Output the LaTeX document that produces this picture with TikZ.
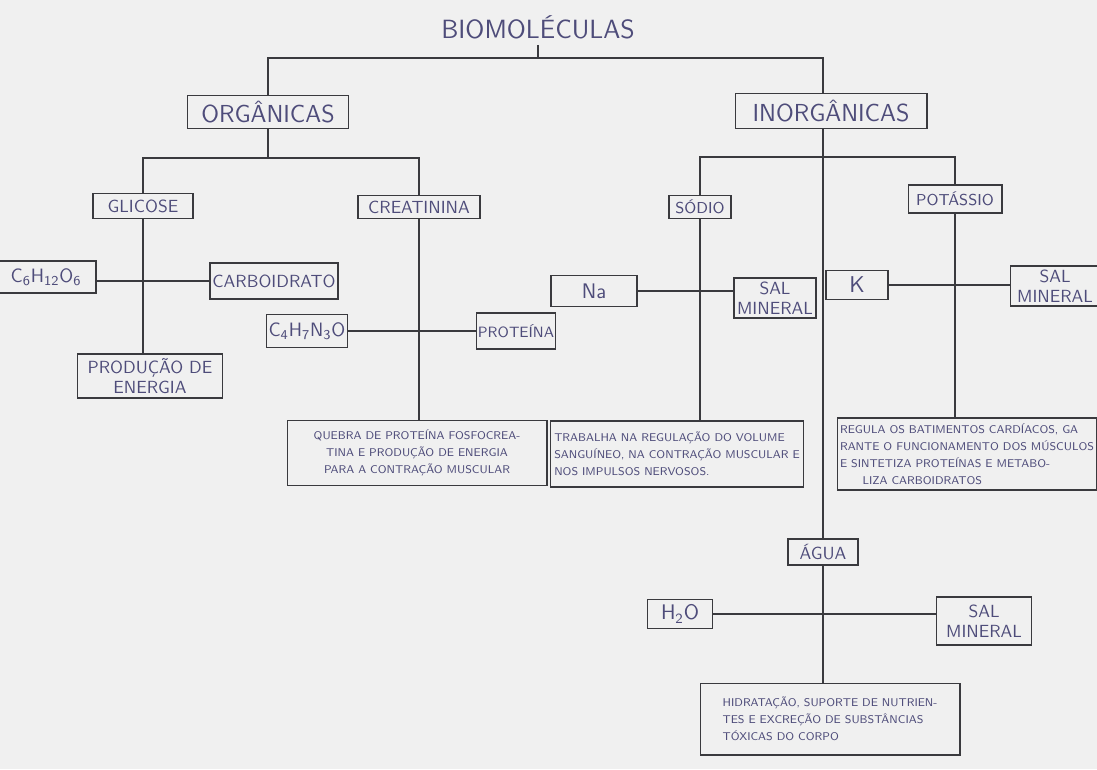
\documentclass[tikz,border=0pt]{standalone}
\usepackage{fontspec}
\definecolor{ink}{RGB}{78,76,122}
\definecolor{linecol}{RGB}{58,58,62}
\definecolor{paper}{RGB}{240,240,240}
\tikzset{
  box/.style={draw=linecol, line width=0.6pt, text=ink, inner sep=1pt, align=center},
  head/.style={box, font=\sffamily\fontsize{14}{17}\selectfont},
  item/.style={box, font=\sffamily\fontsize{10}{11.5}\selectfont},
  note/.style={box, font=\sffamily\fontsize{6.4}{9.6}\selectfont},
  link/.style={draw=linecol, line width=0.6pt},
}
\begin{document}
\begin{tikzpicture}[x=0.02cm, y=-0.02cm]
  \fill[paper] (0,0) rectangle (1097,769);
  \useasboundingbox (0,0) rectangle (1097,769);
  \clip (0,0) rectangle (1097,769);

  % title and first level
  \node[text=ink, font=\sffamily\fontsize{15}{18}\selectfont] (bio) at (538,27) {BIOMOLÉCULAS};
  \node[head, minimum width=3.22cm, minimum height=0.66cm] (org) at (268,112) {ORGÂNICAS};
  \node[head, minimum width=3.84cm, minimum height=0.70cm] (inorg) at (831,111) {INORGÂNICAS};

  % organic side
  \node[item, minimum width=2.0cm, minimum height=0.5cm] (glic) at (143,206) {GLICOSE};
  \node[item, font=\sffamily\fontsize{11}{13}\selectfont, minimum width=2.0cm, minimum height=0.64cm] (c6) at (46,277) {C\textsubscript{6}H\textsubscript{12}O\textsubscript{6}};
  \node[item, minimum width=2.56cm, minimum height=0.72cm] (carb) at (274,281) {CARBOIDRATO};
  \node[item, minimum width=2.9cm, minimum height=0.88cm] (prod) at (150,376) {PRODUÇÃO DE\\ENERGIA};
  \node[item, minimum width=2.44cm, minimum height=0.46cm] (creat) at (419,207) {CREATININA};
  \node[item, font=\sffamily\fontsize{11}{13}\selectfont, minimum width=1.62cm, minimum height=0.66cm] (c4) at (307,331) {C\textsubscript{4}H\textsubscript{7}N\textsubscript{3}O};
  \node[item, font=\sffamily\fontsize{8.5}{10}\selectfont, minimum width=1.42cm, minimum height=0.72cm] (prot) at (516,331) {PROTEÍNA};
  \node[note, minimum width=5.2cm, minimum height=1.3cm] (quebra) at (417,453) {QUEBRA DE PROTEÍNA FOSFOCREA-\\TINA E PRODUÇÃO DE ENERGIA\\PARA A CONTRAÇÃO MUSCULAR};

  % inorganic side
  \node[item, font=\sffamily\fontsize{9}{11}\selectfont, minimum width=1.24cm, minimum height=0.46cm] (sodio) at (700,207) {SÓDIO};
  \node[item, font=\sffamily\fontsize{12}{14}\selectfont, minimum width=1.72cm, minimum height=0.62cm] (na) at (594,291) {Na};
  \node[item, minimum width=1.64cm, minimum height=0.8cm] (sal1) at (775,298) {SAL\\MINERAL};
  \node[note, align=left, minimum width=5.06cm, minimum height=1.32cm] (trab) at (677,454) {TRABALHA NA REGULAÇÃO DO VOLUME\\SANGUÍNEO, NA CONTRAÇÃO MUSCULAR E\\NOS IMPULSOS NERVOSOS.};
  \node[item, font=\sffamily\fontsize{9}{11}\selectfont, minimum width=1.88cm, minimum height=0.56cm] (potas) at (955,199) {POTÁSSIO};
  \node[item, font=\sffamily\fontsize{13}{15}\selectfont, minimum width=1.24cm, minimum height=0.58cm] (k) at (857,285) {K};
  \node[item, minimum width=1.8cm, minimum height=0.8cm] (sal2) at (1055,286) {SAL\\MINERAL};
  \node[note, align=left, minimum width=5.2cm, minimum height=1.44cm] (regula) at (967,454) {REGULA OS BATIMENTOS CARDÍACOS, GA\\RANTE O FUNCIONAMENTO DOS MÚSCULOS\\E SINTETIZA PROTEÍNAS E METABO-\\\quad\quad LIZA CARBOIDRATOS};
  \node[item, minimum width=1.4cm, minimum height=0.52cm] (agua) at (823,552) {ÁGUA};
  \node[item, font=\sffamily\fontsize{12}{14}\selectfont, minimum width=1.3cm, minimum height=0.58cm] (h2o) at (680,614) {H\textsubscript{2}O};
  \node[item, minimum width=1.9cm, minimum height=0.96cm] (sal3) at (984,621) {SAL\\MINERAL};
  \node[note, align=left, minimum width=5.2cm, minimum height=1.44cm] (hidra) at (830,719) {HIDRATAÇÃO, SUPORTE DE NUTRIEN-\\TES E EXCREÇÃO DE SUBSTÂNCIAS\\TÓXICAS DO CORPO};

  % junctions
  \coordinate (j0) at (538,58);
  \coordinate (trunk) at (823,58);
  \coordinate (j1) at (268,158);
  \coordinate (j2) at (823,157);

  % connectors
  \draw[link] (bio) -- (j0);
  \draw[link] (org.north) |- (j0) -- (trunk) -- (trunk |- inorg.north);
  \draw[link] (org.south) -- (j1);
  \draw[link] (glic.north) |- (j1) -| (creat.north);
  \draw[link] (glic.south) -- (glic.south |- prod.north);
  \draw[link] (c6.east |- carb) -- (carb.west);
  \draw[link] (creat.south) -- (creat.south |- quebra.north);
  \draw[link] (c4) -- (prot);
  \draw[link] (agua.north) -- (agua.north |- inorg.south);
  \draw[link] (sodio.north) |- (j2) -| (potas.north);
  \draw[link] (sodio.south) -- (sodio.south |- trab.north);
  \draw[link] (na.east) -- (na.east -| sal1.west);
  \draw[link] (potas.south) -- (potas.south |- regula.north);
  \draw[link] (k.east) -- (k.east -| sal2.west);
  \draw[link] (agua.south) -- (agua.south |- hidra.north);
  \draw[link] (h2o.east) -- (h2o.east -| sal3.west);
\end{tikzpicture}
\end{document}
